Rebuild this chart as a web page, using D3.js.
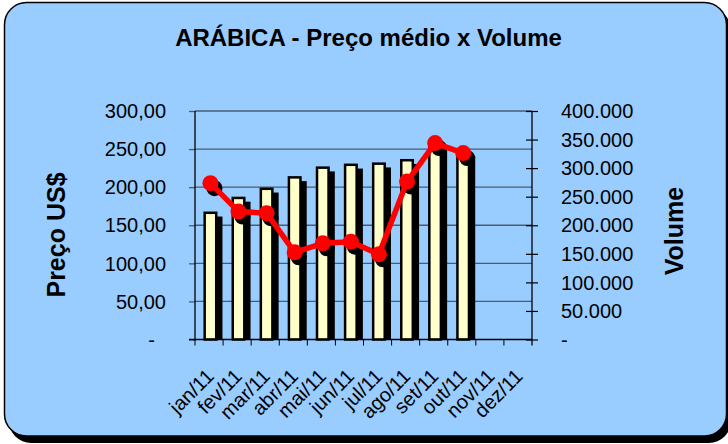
<!DOCTYPE html>
<html><head><meta charset="utf-8">
<script src="https://cdn.jsdelivr.net/npm/d3@7"></script>
<style>html,body{margin:0;padding:0;background:#fff;}svg{display:block;}</style>
</head><body>
<script>
const categories = ["jan/11","fev/11","mar/11","abr/11","mai/11","jun/11","jul/11","ago/11","set/11","out/11","nov/11","dez/11"];
const volume = [224000, 250000, 266000, 286000, 303000, 308000, 310000, 316000, 340000, 330000, null, null];
const price = [205.3, 167.9, 165.8, 114.5, 126.3, 128.4, 111.8, 207.4, 257.9, 244.7, null, null];
const priceTicks = [0, 50, 100, 150, 200, 250, 300];
const volumeTicks = [0, 50000, 100000, 150000, 200000, 250000, 300000, 350000, 400000];

const W = 728, H = 444;
const font = "'Liberation Sans', Arial, sans-serif";
const svg = d3.select("body").append("svg").attr("width", W).attr("height", H);

// frame
svg.append("rect").attr("x", 9).attr("y", 8).attr("width", 722).attr("height", 435)
  .attr("rx", 22).attr("fill", "#000");
svg.append("rect").attr("x", 4.5).attr("y", 2.5).attr("width", 722).attr("height", 433.5)
  .attr("rx", 22).attr("fill", "#99CCFF").attr("stroke", "#000").attr("stroke-width", 1.5);

svg.append("text").attr("x", 368.5).attr("y", 46).attr("text-anchor", "middle")
  .attr("font-family", font).attr("font-weight", "bold").attr("font-size", 24)
  .attr("fill", "#000").text("ARÁBICA - Preço médio x Volume");

const L = 195, R = 532, T = 111, B = 339.5;
const x = d3.scaleBand().domain(categories).range([L, R]).padding(0);
const yP = d3.scaleLinear().domain([0, 300]).range([B, T]);
const yV = d3.scaleLinear().domain([0, 400000]).range([B, T]);
const bw = x.bandwidth();

// gridlines
svg.append("g").selectAll("line").data(priceTicks.slice(1)).join("line")
  .attr("x1", L).attr("x2", R).attr("y1", d => yP(d)).attr("y2", d => yP(d))
  .attr("stroke", "#4a5d70").attr("stroke-width", 1.3);

// bars
const barX = c => x(c) + bw * 0.3;
const barW = bw * 0.5;
const bd = categories.map((c, i) => ({c, v: volume[i]})).filter(d => d.v != null);
svg.append("g").selectAll("rect").data(bd).join("rect")
  .attr("x", d => barX(d.c) + 5).attr("y", d => yV(d.v) + 5)
  .attr("width", barW).attr("height", d => B - yV(d.v) - 5).attr("fill", "#000");
svg.append("g").selectAll("rect").data(bd).join("rect")
  .attr("x", d => barX(d.c) + 1.25).attr("y", d => yV(d.v) + 1.25)
  .attr("width", barW - 2.5).attr("height", d => B - yV(d.v) - 1.25)
  .attr("fill", "#FFFFCC").attr("stroke", "#000").attr("stroke-width", 2.5);

// axes
const leftAxis = d3.axisLeft(yP).tickValues(priceTicks).tickSize(6).tickFormat("");
const gl = svg.append("g").attr("transform", `translate(${L},0)`).call(leftAxis);
gl.select(".domain").remove();
gl.selectAll(".tick line").attr("stroke", "#4a5d70").attr("stroke-width", 1.3);
svg.append("line").attr("x1", L).attr("x2", L).attr("y1", T).attr("y2", B + 1).attr("stroke", "#000").attr("stroke-width", 1.3);

const rightAxis = d3.axisRight(yV).tickValues(volumeTicks).tickSize(6).tickFormat("");
const gr = svg.append("g").attr("transform", `translate(${R},0)`).call(rightAxis);
gr.select(".domain").remove();
gr.selectAll(".tick line").attr("x1", -6).attr("stroke", "#000").attr("stroke-width", 1.2);
svg.append("line").attr("x1", R).attr("x2", R).attr("y1", T).attr("y2", B + 6).attr("stroke", "#000").attr("stroke-width", 1.3);

const bottomAxis = d3.axisBottom(x).tickSize(0).tickFormat("");
const gb = svg.append("g").attr("transform", `translate(0,${B})`).call(bottomAxis);
gb.select(".domain").remove();
svg.append("line").attr("x1", L - 6).attr("x2", R).attr("y1", B).attr("y2", B).attr("stroke", "#000").attr("stroke-width", 1.3);
svg.append("g").selectAll("line").data(categories).join("line")
  .attr("x1", d => x(d)).attr("x2", d => x(d)).attr("y1", B).attr("y2", B + 6)
  .attr("stroke", "#000").attr("stroke-width", 1);

// tick labels
const fmtP = d => d === 0 ? "-" : d3.format(".2f")(d).replace(".", ",");
svg.append("g").selectAll("text").data(priceTicks).join("text")
  .attr("x", d => d === 0 ? 155 : 166).attr("y", d => yP(d)).attr("dy", "0.36em")
  .attr("text-anchor", "end").attr("font-family", font).attr("font-size", 20).attr("fill", "#000")
  .text(fmtP);
const fmtV = d => d === 0 ? "-" : d3.format(",")(d).replace(/,/g, ".");
svg.append("g").selectAll("text").data(volumeTicks).join("text")
  .attr("x", 561).attr("y", d => yV(d)).attr("dy", "0.36em")
  .attr("text-anchor", "start").attr("font-family", font).attr("font-size", 20).attr("fill", "#000")
  .text(fmtV);

svg.append("g").selectAll("text").data(categories).join("text")
  .attr("transform", d => `translate(${x(d) + bw / 2 + 6},${B + 38}) rotate(-45)`)
  .attr("text-anchor", "end").attr("font-family", font).attr("font-size", 20).attr("fill", "#000")
  .text(d => d);

// axis titles
svg.append("text").attr("transform", "translate(65,235) rotate(-90)").attr("text-anchor", "middle")
  .attr("font-family", font).attr("font-weight", "bold").attr("font-size", 25).attr("fill", "#000").text("Preço US$");
svg.append("text").attr("transform", "translate(683,231) rotate(-90)").attr("text-anchor", "middle")
  .attr("font-family", font).attr("font-weight", "bold").attr("font-size", 25).attr("fill", "#000").text("Volume");

// line
const pd = categories.map((c, i) => ({c, v: price[i]})).filter(d => d.v != null);
const px = d => barX(d.c) + barW / 2;
svg.append("g").selectAll("circle").data(pd).join("circle")
  .attr("cx", d => px(d) + 4).attr("cy", d => yP(d.v) + 5).attr("r", 8).attr("fill", "#000");
svg.append("path").datum(pd)
  .attr("d", d3.line().x(px).y(d => yP(d.v)))
  .attr("fill", "none").attr("stroke", "#FF0000").attr("stroke-width", 5.5).attr("stroke-linejoin", "round");
svg.append("g").selectAll("circle").data(pd).join("circle")
  .attr("cx", px).attr("cy", d => yP(d.v)).attr("r", 8).attr("fill", "#FF0000");
</script>
</body></html>
